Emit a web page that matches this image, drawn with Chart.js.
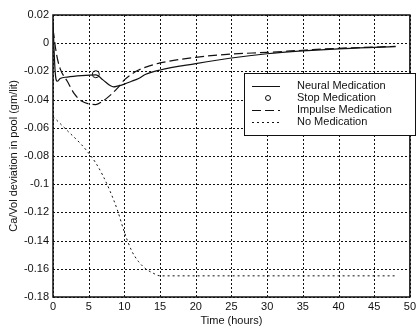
<!DOCTYPE html>
<html>
<head>
<meta charset="utf-8">
<script src="https://cdn.jsdelivr.net/npm/chart.js@4.4.0/dist/chart.umd.min.js"></script>
<style>
  html, body { margin: 0; padding: 0; background: #fff; }
  #wrap { width: 419px; height: 330px; }
</style>
</head>
<body>
<div id="wrap"><canvas id="myChart" width="419" height="330"></canvas></div>
<script>
// Tider (timer) og verdier lest av bildet
const neuralT = [0, 0.3, 0.6, 1, 2, 4, 6, 7, 8, 8.5, 9, 10, 11, 12, 13, 15, 20, 25, 30, 35, 40, 45, 48];
const neuralY = [0.015, -0.02, -0.027, -0.025, -0.024, -0.023, -0.0225, -0.026, -0.03, -0.031, -0.0305, -0.029, -0.027, -0.025, -0.022, -0.019, -0.0145, -0.0105, -0.0075, -0.0055, -0.004, -0.003, -0.0025];

const stopT = [6];
const stopY = [-0.022];

const impulseT = [0, 0.5, 1, 2, 3, 4, 5, 6, 7, 8, 9, 9.5, 10, 11, 12, 13, 15, 20, 25, 30, 35, 40, 45, 48];
const impulseY = [0.01, -0.008, -0.018, -0.027, -0.036, -0.041, -0.043, -0.0435, -0.041, -0.037, -0.032, -0.029, -0.026, -0.022, -0.019, -0.017, -0.014, -0.01, -0.0077, -0.0065, -0.005, -0.0036, -0.0028, -0.0022];

const noMedT = [0, 2, 4, 5, 6, 7, 8, 9, 10, 11, 12, 13, 14, 15, 20, 25, 30, 35, 40, 45, 48];
const noMedY = [-0.052, -0.062, -0.072, -0.078, -0.085, -0.094, -0.105, -0.118, -0.134, -0.147, -0.155, -0.16, -0.163, -0.165, -0.165, -0.165, -0.165, -0.165, -0.165, -0.165, -0.165];

const xTicks = [0, 5, 10, 15, 20, 25, 30, 35, 40, 45, 50];
const yTicks = [0.02, 0, -0.02, -0.04, -0.06, -0.08, -0.1, -0.12, -0.14, -0.16, -0.18];

const labels = ['Neural Medication', 'Stop Medication', 'Impulse Medication', 'No Medication'];

function pts(t, y) {
    return t.map(function (v, i) { return { x: v, y: y[i] }; });
}

const ink = '#111';
const fontName = "'Liberation Sans', Arial, sans-serif";

// Prikkete rutenett under kurvene
const gridPlugin = {
    id: 'gridPlugin',
    beforeDatasetsDraw(chart) {
        const c = chart.ctx;
        const a = chart.chartArea;
        const sx = chart.scales.x, sy = chart.scales.y;
        c.save();
        c.strokeStyle = ink;
        c.lineWidth = 1;
        c.setLineDash([2, 2]);
        xTicks.forEach(function (v) {
            const px = Math.round(sx.getPixelForValue(v)) + 0.5;
            c.beginPath();
            c.moveTo(px, a.top);
            c.lineTo(px, a.bottom);
            c.stroke();
        });
        yTicks.forEach(function (v) {
            const py = Math.round(sy.getPixelForValue(v)) + 0.5;
            c.beginPath();
            c.moveTo(a.left, py);
            c.lineTo(a.right, py);
            c.stroke();
        });
        c.restore();
    }
};

// Tegn ramme rundt plottet og legenden inne i plottet
const boxPlugin = {
    id: 'boxPlugin',
    afterDraw(chart) {
        const c = chart.ctx;
        const a = chart.chartArea;
        c.save();
        c.strokeStyle = ink;
        c.lineWidth = 1.5;
        c.setLineDash([]);
        c.strokeRect(a.left, a.top, a.right - a.left, a.bottom - a.top);

        // legende
        const lx = 244, ly = 73, lw = 171, lh = 62;
        c.fillStyle = '#fff';
        c.fillRect(lx, ly, lw, lh);
        c.lineWidth = 1;
        c.strokeRect(lx + 0.5, ly + 0.5, lw, lh);
        const rows = [86, 98, 110, 122];
        c.font = '11px ' + fontName;
        c.textBaseline = 'middle';
        rows.forEach(function (ry, i) {
            c.strokeStyle = ink;
            c.lineWidth = 1;
            if (i === 0) { c.setLineDash([]); }
            if (i === 2) { c.setLineDash([9, 4]); }
            if (i === 3) { c.setLineDash([2, 3]); }
            if (i === 1) {
                c.setLineDash([]);
                c.beginPath();
                c.arc(268, ry, 2.5, 0, Math.PI * 2);
                c.stroke();
            } else {
                c.beginPath();
                c.moveTo(252, ry + 0.5);
                c.lineTo(280, ry + 0.5);
                c.stroke();
            }
            c.setLineDash([]);
            c.fillStyle = ink;
            c.fillText(labels[i], 297, ry);
        });
        c.restore();
    }
};

const ctx = document.getElementById('myChart').getContext('2d');

const myChart = new Chart(ctx, {
    type: 'line',
    data: {
        datasets: [
            { label: labels[0], data: pts(neuralT, neuralY), borderColor: ink, borderWidth: 1.2, pointRadius: 0, cubicInterpolationMode: 'monotone' },
            { label: labels[1], data: pts(stopT, stopY), borderColor: ink, borderWidth: 1, showLine: false, pointRadius: 3.5, pointBackgroundColor: 'rgba(0,0,0,0)', pointBorderColor: ink, pointBorderWidth: 1 },
            { label: labels[2], data: pts(impulseT, impulseY), borderColor: ink, borderWidth: 1.2, borderDash: [9, 4], pointRadius: 0, cubicInterpolationMode: 'monotone' },
            { label: labels[3], data: pts(noMedT, noMedY), borderColor: ink, borderWidth: 1, borderDash: [2, 3], pointRadius: 0, cubicInterpolationMode: 'monotone' }
        ]
    },
    options: {
        responsive: false,
        animation: false,
        layout: { padding: { top: 15, right: 3, left: 7, bottom: 0 } },
        plugins: { legend: { display: false }, tooltip: { enabled: false } },
        scales: {
            x: {
                type: 'linear',
                min: 0, max: 50,
                afterBuildTicks: function (s) { s.ticks = xTicks.map(function (v) { return { value: v }; }); },
                afterFit: function (s) { s.height = 33; },
                grid: { display: false, drawTicks: false },
                border: { display: false },
                ticks: { color: ink, font: { family: fontName, size: 11 }, padding: 3, maxRotation: 0, autoSkip: false },
                title: { display: true, text: 'Time (hours)', color: ink, font: { family: fontName, size: 11 }, padding: { top: 0, bottom: 2 } }
            },
            y: {
                type: 'linear',
                min: -0.18, max: 0.02,
                afterBuildTicks: function (s) { s.ticks = yTicks.map(function (v) { return { value: v }; }); },
                afterFit: function (s) { s.width = 46; },
                grid: { display: false, drawTicks: false },
                border: { display: false },
                ticks: { color: ink, font: { family: fontName, size: 11 }, padding: 4, autoSkip: false,
                    callback: function (v) { return String(Math.round(v * 100) / 100); } },
                title: { display: true, text: 'Ca/Vol deviation in pool (gm/lit)', color: ink, font: { family: fontName, size: 11 }, padding: 0 }
            }
        }
    },
    plugins: [gridPlugin, boxPlugin]
});
</script>
</body>
</html>
